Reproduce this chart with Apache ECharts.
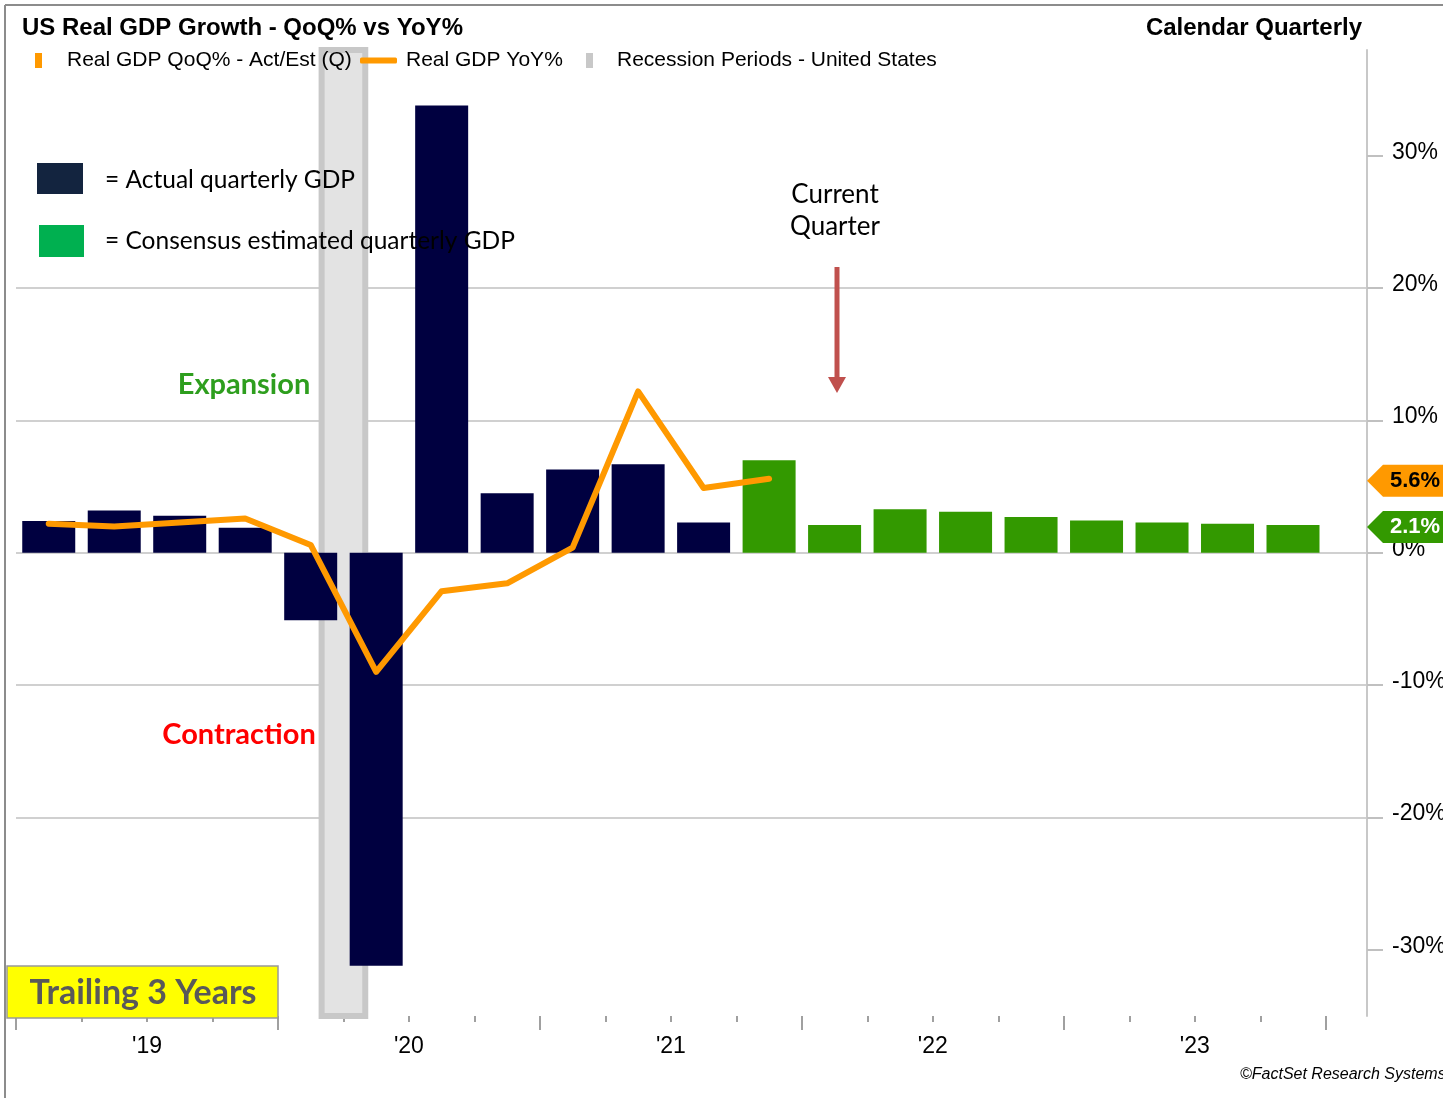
<!DOCTYPE html>
<html><head><meta charset="utf-8">
<script src="https://cdn.jsdelivr.net/npm/echarts@6.0.0/dist/echarts.min.js"></script>
<style>html,body{margin:0;padding:0;background:#fff;}#c{width:1443px;height:1098px;}</style>
</head><body><div id="c"></div>
<script>
// ---- data ----
const quarters = ['1Q19','2Q19','3Q19','4Q19','1Q20','2Q20','3Q20','4Q20','1Q21','2Q21','3Q21','4Q21',
                  '1Q22','2Q22','3Q22','4Q22','1Q23','2Q23','3Q23','4Q23'];
const qoqActual = [2.4, 3.2, 2.8, 1.9, -5.1, -31.2, 33.8, 4.5, 6.3, 6.7, 2.3];
const qoqEstimate = [7.0, 2.1, 3.3, 3.1, 2.7, 2.45, 2.3, 2.2, 2.1];
const yoy = [2.2, 2.0, 2.3, 2.6, 0.6, -9.0, -2.9, -2.3, 0.4, 12.2, 4.9, 5.6];
const yearLabels = ["'19", "'20", "'21", "'22", "'23"];
const yTickValues = [-30, -20, -10, 0, 10, 20, 30];
const recessionMonths = [14, 16]; // months since Jan 2019: Mar 2020 through Apr 2020

// ---- build ----
const nQ = quarters.length;
const quarterTicks = quarters.map((q, i) => i).concat([nQ]);
const yearTicks = quarterTicks.filter(v => v % 4 === 0);
const yearLabelPos = yearLabels.map((y, i) => i * 4 + 2);

const barData = quarters.map((q, i) => {
  const isAct = i < qoqActual.length;
  const v = isAct ? qoqActual[i] : qoqEstimate[i - qoqActual.length];
  return { name: q, value: [i + 0.5, v], itemStyle: { color: isAct ? '#000040' : '#339900' } };
});
const lineData = yoy.map((v, i) => [i + 0.5, v]);

const chart = echarts.init(document.getElementById('c'), null, { renderer: 'canvas' });
const AR = '"Liberation Sans", Arial, sans-serif';
const CAL = 'Lato, "Open Sans", sans-serif';
const XMAX = 20.63;

chart.setOption({
  animation: false,
  backgroundColor: '#fff',
  grid: { left: 16, right: 76, top: 50, bottom: 82, containLabel: false, outerBoundsMode: 'none' },
  legend: [
    { left: 35, top: 50, padding: 0, itemWidth: 7, itemHeight: 15, selectedMode: false,
      data: [{ name: 'Real GDP QoQ% - Act/Est (Q)', icon: 'rect', itemStyle: { color: '#FF9900' } }],
      textStyle: { fontFamily: AR, fontSize: 21, color: '#000', padding: [0, 0, 0, 20] } },
    { left: 360, top: 50, padding: 0, itemWidth: 37, itemHeight: 6, selectedMode: false,
      data: [{ name: 'Real GDP YoY%', icon: 'roundRect', itemStyle: { color: '#FF9900' } }],
      textStyle: { fontFamily: AR, fontSize: 21, color: '#000', padding: [0, 0, 0, 4] } },
    { left: 586, top: 50, padding: 0, itemWidth: 7, itemHeight: 15, selectedMode: false,
      data: [{ name: 'Recession Periods - United States', icon: 'rect', itemStyle: { color: '#C8C8C8' } }],
      textStyle: { fontFamily: AR, fontSize: 21, color: '#000', padding: [0, 0, 0, 19] } }
  ],
  xAxis: [
    { type: 'value', min: 0, max: XMAX, position: 'bottom',
      axisLine: { show: false, onZero: false }, splitLine: { show: false },
      axisTick: { show: true, length: 6, customValues: quarterTicks, lineStyle: { color: '#A0A0A0', width: 2 } },
      axisLabel: { show: true, customValues: yearLabelPos, margin: 19,
        formatter: v => yearLabels[Math.round((v - 2) / 4)] || '',
        fontFamily: AR, fontSize: 23, color: '#000' } },
    { type: 'value', min: 0, max: XMAX, position: 'bottom',
      axisLine: { show: false, onZero: false }, splitLine: { show: false },
      axisTick: { show: true, length: 14, customValues: yearTicks, lineStyle: { color: '#A0A0A0', width: 2 } },
      axisLabel: { show: false } }
  ],
  yAxis: {
    type: 'value', position: 'right', min: -35, max: 38,
    axisLine: { show: true, onZero: false, lineStyle: { color: '#C8C8C8', width: 2 } },
    axisTick: { show: true, length: 16, customValues: yTickValues, lineStyle: { color: '#C0C0C0', width: 2 } },
    axisLabel: { show: true, customValues: yTickValues, margin: 25, formatter: v => v + '%',
      fontFamily: AR, fontSize: 23, color: '#000', verticalAlign: 'bottom', lineHeight: 7 },
    splitLine: { show: true, showMinLine: false, showMaxLine: false, lineStyle: { color: '#D0D0D0', width: 2 } }
  },
  series: [
    { name: 'Recession Periods - United States', type: 'line', data: [], z: 1,
      itemStyle: { color: '#C8C8C8' },
      markArea: { silent: true, itemStyle: { color: '#E3E3E3', borderColor: '#C8C8C8', borderWidth: 6 },
        data: [[{ xAxis: recessionMonths[0] / 3 }, { xAxis: recessionMonths[1] / 3 }]] } },
    { name: 'Real GDP QoQ% - Act/Est (Q)', type: 'bar', data: barData, barWidth: 53, z: 2,
      itemStyle: { color: '#000040' } },
    { name: 'Real GDP YoY%', type: 'line', data: lineData, z: 3, symbol: 'none',
      itemStyle: { color: '#FF9900' },
      lineStyle: { color: '#FF9900', width: 6, cap: 'round', join: 'round' } }
  ]
});

// value tags on the right axis
const lastYoy = yoy[yoy.length - 1];
const lastEst = qoqEstimate[qoqEstimate.length - 1];
const yOf = v => chart.convertToPixel({ yAxisIndex: 0 }, v);
const axisX = chart.convertToPixel({ xAxisIndex: 0 }, XMAX);
function tag(v, fill, txtColor) {
  const c = yOf(v) + 2;
  return [
    { type: 'polygon', z: 50, shape: { points: [[axisX, c], [axisX + 16, c - 16], [1443, c - 16], [1443, c + 16], [axisX + 16, c + 16]] },
      style: { fill: fill } },
    { type: 'text', z: 51, style: { x: 1415, y: c, text: v.toFixed(1) + '%', align: 'center', verticalAlign: 'middle',
      font: 'bold 22px ' + AR, fill: txtColor } }
  ];
}

const g = [
  { type: 'line', z: 60, shape: { x1: 5, y1: 5, x2: 1443, y2: 5 }, style: { stroke: '#8C8C8C', lineWidth: 2 } },
  { type: 'line', z: 60, shape: { x1: 5, y1: 5, x2: 5, y2: 1098 }, style: { stroke: '#8C8C8C', lineWidth: 2 } },
  { type: 'text', z: 60, style: { x: 22, y: 28, text: 'US Real GDP Growth - QoQ% vs YoY%', verticalAlign: 'middle', font: 'bold 24px ' + AR, fill: '#000' } },
  { type: 'text', z: 60, style: { x: 1362, y: 28, text: 'Calendar Quarterly', align: 'right', verticalAlign: 'middle', font: 'bold 24px ' + AR, fill: '#000' } },
  { type: 'rect', z: 40, shape: { x: 37, y: 163, width: 46, height: 31 }, style: { fill: '#13243F' } },
  { type: 'text', z: 40, style: { x: 105, y: 180, text: '= Actual quarterly GDP', verticalAlign: 'middle', font: '24.5px ' + CAL, fill: '#000' } },
  { type: 'rect', z: 40, shape: { x: 39, y: 225, width: 45, height: 32 }, style: { fill: '#00B050' } },
  { type: 'text', z: 40, style: { x: 105, y: 241, text: '= Consensus estimated quarterly GDP', verticalAlign: 'middle', font: '24.5px ' + CAL, fill: '#000' } },
  { type: 'text', z: 40, style: { x: 244, y: 385, text: 'Expansion', align: 'center', verticalAlign: 'middle', font: 'bold 29px ' + CAL, fill: '#2E9E1E' } },
  { type: 'text', z: 40, style: { x: 239, y: 735, text: 'Contraction', align: 'center', verticalAlign: 'middle', font: 'bold 29px ' + CAL, fill: '#FF0000' } },
  { type: 'text', z: 40, style: { x: 835, y: 195, text: 'Current', align: 'center', verticalAlign: 'middle', font: '26px ' + CAL, fill: '#000' } },
  { type: 'text', z: 40, style: { x: 835, y: 227, text: 'Quarter', align: 'center', verticalAlign: 'middle', font: '26px ' + CAL, fill: '#000' } },
  { type: 'line', z: 40, shape: { x1: 837, y1: 267, x2: 837, y2: 379 }, style: { stroke: '#C0504D', lineWidth: 5 } },
  { type: 'polygon', z: 40, shape: { points: [[828, 377], [846, 377], [837, 393]] }, style: { fill: '#C0504D' } },
  { type: 'rect', z: 40, shape: { x: 7, y: 966, width: 271, height: 52 }, style: { fill: '#FFFF00', stroke: '#999999', lineWidth: 1.5 } },
  { type: 'text', z: 41, style: { x: 143, y: 993, text: 'Trailing 3 Years', align: 'center', verticalAlign: 'middle', font: 'bold 34px ' + CAL, fill: '#595959' } },
  { type: 'text', z: 40, style: { x: 1240, y: 1075, text: '©FactSet Research Systems', verticalAlign: 'middle', font: 'italic 16px ' + AR, fill: '#000' } }
].concat(tag(lastYoy, '#FF9900', '#000'), tag(lastEst, '#339900', '#fff'));

chart.setOption({ graphic: g });
</script>
</body></html>
